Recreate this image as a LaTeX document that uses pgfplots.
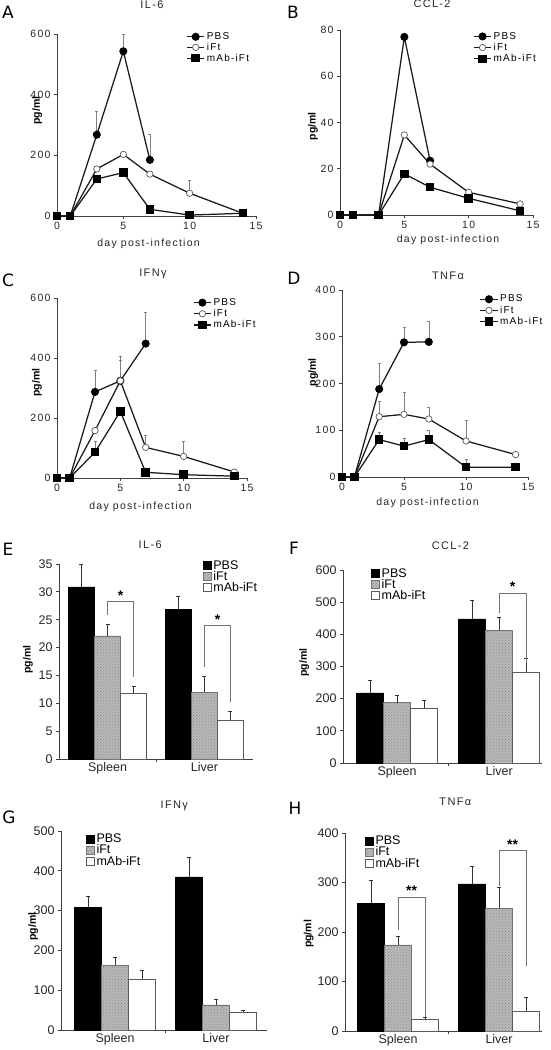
\documentclass[border=0pt]{standalone}
\usepackage{fontspec}
\setmainfont{Liberation Sans}
\newfontfamily\spc[LetterSpace=12]{Liberation Sans}
\newfontfamily\letterfont{DejaVu Sans}
\usepackage{pgfplots}
\pgfplotsset{compat=1.18}
\usetikzlibrary{patterns}
\begin{document}
\begin{tikzpicture}
\path[use as bounding box] (0pt,0pt) rectangle (551pt,1050pt);
\pgfplotsset{
  base/.style={
    scale only axis, anchor=south west,
    axis x line=bottom, axis y line=left,
    axis line style={-, black!75, line width=0.9pt},
    tick style={black!75, line width=0.8pt},
    tick align=outside, major tick length=3pt,
    /pgf/number format/assume math mode=true,
    clip=false,
    legend cell align=left,
    ylabel={\textbf{pg/ml}},
    ylabel style={anchor=center, font=\fontsize{10.5}{12}\selectfont},
  },
  linep/.style={base, xmin=0, xmax=15, xtick={0,5,10,15}, ymin=0,
    ticklabel style={font=\spc\fontsize{10.5}{11}\selectfont, text=black!85},
    xlabel style={font=\spc\fontsize{10.5}{11}\selectfont, text=black!85},
    xlabel={day post-infection},
    title style={font=\spc\fontsize{11}{12}\selectfont, anchor=center, text=black!85},
    legend style={draw=none, fill=none, font=\spc\fontsize{10}{11}\selectfont, inner sep=0pt, row sep=-1.5pt, anchor=north west},
    every axis plot/.append style={line width=1.25pt, black!90,
      error bars/y dir=plus, error bars/y explicit,
      error bars/error bar style={black!50, line width=0.6pt},
      error bars/error mark options={rotate=90, mark size=1.5pt, black!50}},
  },
  pbs/.style={mark=*, mark size=3.4pt, mark options={fill=black, draw=black}},
  ift/.style={mark=*, mark size=3.2pt, mark options={fill=white, draw=black!65, line width=0.7pt}},
  mab/.style={mark=square*, mark size=3.6pt, mark options={fill=black, draw=black}},
  barp/.style={base, ymin=0, ybar=0pt, bar width=27pt,
    xtick={0.5}, xticklabels={},
    extra x ticks={0,1}, extra x tick labels={Spleen,Liver},
    extra x tick style={major tick length=0pt, tick label style={font=\fontsize{12.5}{13}\selectfont}},
    ticklabel style={font=\fontsize{12.5}{14}\selectfont, text=black!85},
    title style={font=\spc\fontsize{11}{12}\selectfont, anchor=center, text=black!85},
    legend style={draw=none, fill=none, font=\fontsize{12.5}{13}\selectfont, inner sep=0pt, row sep=-3.5pt, anchor=north west},
    every axis plot/.append style={
      error bars/y dir=plus, error bars/y explicit,
      error bars/error bar style={black!80, line width=0.7pt},
      error bars/error mark options={rotate=90, mark size=2pt, black!80}},
  },
  sqleg/.style={legend image code/.code={\draw[##1, line width=0.6pt] (0pt,-4pt) rectangle (8pt,4pt);}},
  bpbs/.style={fill=black, draw=black, sqleg},
  bift/.style={fill=black!28, draw=black!55, postaction={pattern=crosshatch dots, pattern color=black!45}, sqleg},
  bmab/.style={fill=white, draw=black!65, sqleg},
}

% ---------- A ----------
\begin{axis}[linep, at={(57pt,834pt)}, width=199pt, height=182pt,
  ymax=600, ytick={0,200,400,600},
  title={IL-6}, title style={at={(axis description cs:0.477,1.13)}},
  ylabel style={at={(axis description cs:-0.1,0.58)}},
  xlabel style={at={(axis description cs:0.46,-0.15)}, anchor=center},
  legend style={at={(axis description cs:0.65,1.02)}, row sep=-2pt}]
\addplot[pbs] coordinates {(0,0) +- (0,0) (1,0) +- (0,0) (3,268) +- (0,77) (5,543) +- (0,57) (7,185) +- (0,83)};
\addplot[ift] coordinates {(0,0) +- (0,0) (1,0) +- (0,0) (3,155) +- (0,0) (5,203) +- (0,0) (7,138) +- (0,0) (10,75) +- (0,42) (14,9) +- (0,0)};
\addplot[mab] coordinates {(0,0) +- (0,0) (1,0) +- (0,0) (3,122) +- (0,0) (5,143) +- (0,0) (7,22) +- (0,0) (10,3) +- (0,0) (14,9) +- (0,0)};
\legend{PBS,iFt,mAb-iFt}
\end{axis}

% ---------- B ----------
\begin{axis}[linep, at={(340pt,835pt)}, width=193pt, height=185pt,
  ymax=80, ytick={0,20,40,60,80},
  title={CCL-2}, title style={at={(axis description cs:0.477,1.11)}},
  ylabel style={at={(axis description cs:-0.14,0.48)}},
  xlabel style={at={(axis description cs:0.56,-0.135)}, anchor=center},
  legend style={at={(axis description cs:0.69,1.0)}}]
\addplot[pbs] coordinates {(0,0) +- (0,0) (1,0) +- (0,0) (3,0) +- (0,0) (5,77) +- (0,0) (7,23.5) +- (0,0)};
\addplot[ift] coordinates {(0,0) +- (0,0) (1,0) +- (0,0) (3,0) +- (0,0) (5,34.6) +- (0,0) (7,22) +- (0,0) (10,9.8) +- (0,0) (14,4.8) +- (0,0)};
\addplot[mab] coordinates {(0,0) +- (0,0) (1,0) +- (0,0) (3,0) +- (0,0) (5,17.8) +- (0,0) (7,12) +- (0,0) (10,7.2) +- (0,0) (14,1.8) +- (0,0)};
\legend{PBS,iFt,mAb-iFt}
\end{axis}

% ---------- C ----------
\begin{axis}[linep, at={(57pt,572pt)}, width=190pt, height=180pt,
  ymax=600, ytick={0,200,400,600},
  title={IFNγ}, title style={at={(axis description cs:0.505,1.10)}},
  ylabel style={at={(axis description cs:-0.105,0.53)}},
  xlabel style={at={(axis description cs:0.44,-0.16)}, anchor=center},
  legend style={at={(axis description cs:0.716,1.01)}}]
\addplot[pbs] coordinates {(0,0) +- (0,0) (1,0) +- (0,0) (3,287) +- (0,72) (5,324) +- (0,82) (7,448) +- (0,104)};
\addplot[ift] coordinates {(0,0) +- (0,0) (1,0) +- (0,0) (3,158) +- (0,10) (5,324) +- (0,68) (7,102) +- (0,42) (10,72) +- (0,52) (14,20) +- (0,0)};
\addplot[mab] coordinates {(0,0) +- (0,0) (1,0) +- (0,0) (3,86) +- (0,36) (5,222) +- (0,11) (7,19) +- (0,0) (10,11) +- (0,0) (14,6) +- (0,0)};
\legend{PBS,iFt,mAb-iFt}
\end{axis}

% ---------- D ----------
\begin{axis}[linep, at={(342pt,573pt)}, width=186pt, height=187pt,
  ymax=400, ytick={0,100,200,300,400},
  title={TNFα}, title style={at={(axis description cs:0.57,1.043)}},
  ylabel style={at={(axis description cs:-0.155,0.56)}},
  xlabel style={at={(axis description cs:0.46,-0.14)}, anchor=center},
  legend style={at={(axis description cs:0.74,0.985)}}]
\addplot[pbs] coordinates {(0,0) +- (0,0) (1,0) +- (0,0) (3,188) +- (0,56) (5,288) +- (0,33) (7,289) +- (0,45)};
\addplot[ift] coordinates {(0,0) +- (0,0) (1,0) +- (0,0) (3,129) +- (0,33) (5,134) +- (0,48) (7,124) +- (0,26) (10,77) +- (0,44) (14,48) +- (0,0)};
\addplot[mab] coordinates {(0,0) +- (0,0) (1,0) +- (0,0) (3,80) +- (0,15) (5,66) +- (0,16) (7,80) +- (0,20) (10,21) +- (0,17) (14,21) +- (0,0)};
\legend{PBS,iFt,mAb-iFt}
\end{axis}

% ---------- E ----------
\begin{axis}[barp, at={(59pt,291pt)}, width=194pt, height=195pt,
  xmin=-0.5, xmax=1.5, bar width=26pt,
  ymax=35, ytick={0,5,10,15,20,25,30,35},
  title={IL-6}, title style={at={(axis description cs:0.47,1.07)}},
  ylabel style={at={(axis description cs:-0.16,0.51)}},
  legend style={at={(axis description cs:0.74,1.03)}}]
\addplot[bpbs] coordinates {(0,30.9) +- (0,4) (1,26.9) +- (0,2.3)};
\addplot[bift] coordinates {(0,22.1) +- (0,2.1) (1,12) +- (0,2.9)};
\addplot[bmab] coordinates {(0,11.8) +- (0,1.3) (1,7) +- (0,1.5)};
\legend{PBS,iFt,mAb-iFt}
\draw[black!55, line width=0.8pt] (axis cs:0,25.9) -- (axis cs:0,28.3) -- ([xshift=26pt]axis cs:0,28.3) -- ([xshift=26pt]axis cs:0,14.8);
\node[font=\fontsize{14}{14}\selectfont\bfseries] at ([xshift=13pt]axis cs:0,29.4) {*};
\draw[black!55, line width=0.8pt] (axis cs:1,16.6) -- (axis cs:1,23.9) -- ([xshift=26pt]axis cs:1,23.9) -- ([xshift=26pt]axis cs:1,10.3);
\node[font=\fontsize{14}{14}\selectfont\bfseries] at ([xshift=13pt]axis cs:1,25.0) {*};
\end{axis}

% ---------- F ----------
\begin{axis}[barp, at={(343pt,287pt)}, width=199pt, height=193pt,
  xmin=-0.53, xmax=1.42,
  ymax=600, ytick={0,100,200,300,400,500,600},
  title={CCL-2}, title style={at={(axis description cs:0.54,1.093)}},
  ylabel style={at={(axis description cs:-0.195,0.52)}},
  legend style={at={(axis description cs:0.14,1.02)}}]
\addplot[bpbs] coordinates {(0,218) +- (0,38) (1,448) +- (0,57)};
\addplot[bift] coordinates {(0,188) +- (0,23) (1,413) +- (0,40)};
\addplot[bmab] coordinates {(0,170) +- (0,24) (1,283) +- (0,43)};
\legend{PBS,iFt,mAb-iFt}
\draw[black!55, line width=0.8pt] (axis cs:1,466) -- (axis cs:1,528) -- ([xshift=27pt]axis cs:1,528) -- ([xshift=27pt]axis cs:1,310);
\node[font=\fontsize{14}{14}\selectfont\bfseries] at ([xshift=13.5pt]axis cs:1,548) {*};
\end{axis}

% ---------- G ----------
\begin{axis}[barp, at={(61pt,20pt)}, width=206pt, height=199pt,
  xmin=-0.535, xmax=1.505,
  ymax=500, ytick={0,100,200,300,400,500},
  title={IFNγ}, title style={at={(axis description cs:0.55,1.095)}},
  ylabel style={at={(axis description cs:-0.135,0.52)}},
  legend style={at={(axis description cs:0.12,0.995)}}]
\addplot[bpbs] coordinates {(0,308) +- (0,28) (1,385) +- (0,50)};
\addplot[bift] coordinates {(0,163) +- (0,21) (1,63) +- (0,14)};
\addplot[bmab] coordinates {(0,127) +- (0,22) (1,44) +- (0,6)};
\legend{PBS,iFt,mAb-iFt}
\end{axis}

% ---------- H ----------
\begin{axis}[barp, at={(345pt,19pt)}, width=197pt, height=198pt,
  xmin=-0.525, xmax=1.425,
  ymax=400, ytick={0,100,200,300,400},
  title={TNFα}, title style={at={(axis description cs:0.56,1.126)}},
  ylabel style={at={(axis description cs:-0.185,0.49)}},
  legend style={at={(axis description cs:0.10,0.995)}}]
\addplot[bpbs] coordinates {(0,258) +- (0,46) (1,297) +- (0,35)};
\addplot[bift] coordinates {(0,174) +- (0,18) (1,248) +- (0,43)};
\addplot[bmab] coordinates {(0,23) +- (0,4) (1,41) +- (0,27)};
\legend{PBS,iFt,mAb-iFt}
\draw[black!55, line width=0.8pt] (axis cs:0,204) -- (axis cs:0,270) -- ([xshift=27pt]axis cs:0,270) -- ([xshift=27pt]axis cs:0,28);
\node[font=\fontsize{14}{14}\selectfont\bfseries] at ([xshift=13.5pt]axis cs:0,284) {**};
\draw[black!55, line width=0.8pt] (axis cs:1,292) -- (axis cs:1,365) -- ([xshift=27pt]axis cs:1,365) -- ([xshift=27pt]axis cs:1,131);
\node[font=\fontsize{14}{14}\selectfont\bfseries] at ([xshift=13.5pt]axis cs:1,377) {**};
\end{axis}

% panel letters
\begin{scope}[every node/.style={font=\letterfont\fontsize{17}{17}\selectfont, anchor=center}]
\node at (8pt,1038pt) {A};
\node at (293pt,1038pt) {B};
\node at (8pt,770pt) {C};
\node at (294pt,772pt) {D};
\node at (8pt,501pt) {E};
\node at (294pt,502pt) {F};
\node at (9pt,233pt) {G};
\node at (295pt,242pt) {H};
\end{scope}
\end{tikzpicture}
\end{document}
